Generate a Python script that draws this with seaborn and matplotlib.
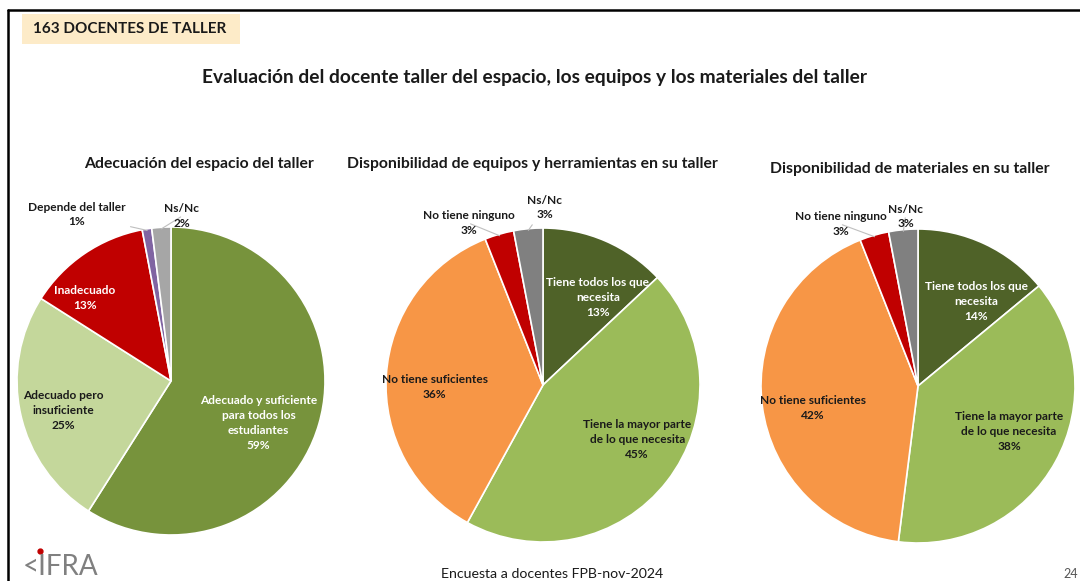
import numpy as np
import matplotlib
matplotlib.use("Agg")
import matplotlib.pyplot as plt
import seaborn as sns
from matplotlib.lines import Line2D
from matplotlib.patches import Rectangle

sns.set_theme(style="white")
plt.rcParams['font.family'] = ['Lato', 'DejaVu Sans']

# Datos
espacio_cat = ['Adecuado y suficiente\npara todos los\nestudiantes', 'Adecuado pero\ninsuficiente',
               'Inadecuado', 'Depende del taller', 'Ns/Nc']
espacio_pct = [59, 25, 13, 1, 2]

equipos_cat = ['Tiene todos los que\nnecesita', 'Tiene la mayor parte\nde lo que necesita',
               'No tiene suficientes', 'No tiene ninguno', 'Ns/Nc']
equipos_pct = [13, 45, 36, 3, 3]

materiales_cat = ['Tiene todos los que\nnecesita', 'Tiene la mayor parte\nde lo que necesita',
                  'No tiene suficientes', 'No tiene ninguno', 'Ns/Nc']
materiales_pct = [14, 38, 42, 3, 3]

titulos = ['Adecuación del espacio del taller',
           'Disponibilidad de equipos y herramientas en su taller',
           'Disponibilidad de materiales en su taller']

# Colores
col_espacio = ['#77933C', '#C4D79B', '#C00000', '#8064A2', '#A6A6A6']
col_equipos = ['#4F6228', '#9BBB59', '#F79646', '#C00000', '#808080']

# Posición de etiquetas (en unidades del radio) y color de texto
pos_espacio = [(0.57, -0.27), (-0.70, -0.19), (-0.56, 0.54), (-0.61, 1.08), (0.07, 1.07)]
pos_equipos = [(0.35, 0.56), (0.60, -0.35), (-0.69, -0.01), (-0.47, 1.03), (0.01, 1.13)]
pos_materiales = [(0.37, 0.54), (0.58, -0.29), (-0.67, -0.14), (-0.49, 1.03), (-0.08, 1.08)]
txt_espacio = ['white', '#1a1a1a', 'white', '#1a1a1a', '#1a1a1a']
txt_equipos = ['white', '#1a1a1a', '#1a1a1a', '#1a1a1a', '#1a1a1a']

W, H = 1080, 581
fig = plt.figure(figsize=(W / 100, H / 100), dpi=100)
fig.patch.set_facecolor('white')


def pie_axes(cx, cy, r):
    ax = fig.add_axes([(cx - r) / W, (H - cy - r) / H, 2 * r / W, 2 * r / H])
    return ax


def dibujar(ax, cats, vals, cols, pos, tcols, titulo, tx, ty):
    wedges, _ = ax.pie(vals, colors=cols, startangle=90, counterclock=False, radius=1,
                       wedgeprops=dict(edgecolor='white', linewidth=1.2))
    ax.set_xlim(-1, 1)
    ax.set_ylim(-1, 1)
    ax.set_aspect('equal')
    ax.axis('off')
    for w, c, v, p, tc in zip(wedges, cats, vals, pos, tcols):
        label = f'{c}\n{v}%'
        if p[1] > 1.0:
            ang = np.deg2rad((w.theta1 + w.theta2) / 2)
            ax.annotate(label, xy=(np.cos(ang) * 0.99, np.sin(ang) * 0.99), xytext=p,
                        ha='center', va='center', fontsize=8.6, fontweight='bold', color=tc,
                        annotation_clip=False, linespacing=1.4,
                        arrowprops=dict(arrowstyle='-', color='#BFBFBF', lw=0.8,
                                        shrinkA=1, shrinkB=0))
        else:
            ax.text(p[0], p[1], label, ha='center', va='center', fontsize=8.6,
                    fontweight='bold', color=tc, linespacing=1.45)
    ax.text(tx, ty, titulo, ha='center', va='center', fontsize=11.3, fontweight='bold',
            color='#1a1a1a', transform=ax.transData, clip_on=False)


ax1 = pie_axes(171, 381, 154)
dibujar(ax1, espacio_cat, espacio_pct, col_espacio, pos_espacio, txt_espacio, titulos[0], 0.18, 1.41)
ax2 = pie_axes(543, 385, 157)
dibujar(ax2, equipos_cat, equipos_pct, col_equipos, pos_equipos, txt_equipos, titulos[1], -0.065, 1.41)
ax3 = pie_axes(918, 386, 157)
dibujar(ax3, materiales_cat, materiales_pct, col_equipos, pos_materiales, txt_equipos, titulos[2], -0.05, 1.38)

# Marco de la diapositiva
fig.add_artist(Line2D([8 / W, 8 / W], [0, 1 - 10 / H], transform=fig.transFigure, color='black', lw=1.8))
fig.add_artist(Line2D([8 / W, 1], [1 - 10 / H, 1 - 10 / H], transform=fig.transFigure, color='black', lw=1.8))

# Encabezado
fig.add_artist(Rectangle((22 / W, 1 - 44 / H), 218 / W, 30 / H, transform=fig.transFigure,
                         facecolor='#FDEBC8', edgecolor='none'))
fig.text(33 / W, 1 - 29 / H, '163 DOCENTES DE TALLER', ha='left', va='center', fontsize=11,
         fontweight='bold', color='#1a1a1a')
fig.text(534 / W, 1 - 78 / H, 'Evaluación del docente taller del espacio, los equipos y los materiales del taller',
         ha='center', va='center', fontsize=13.8, fontweight='bold', color='#1a1a1a')

# Pie de página
fig.text(552 / W, 1 - 574 / H, 'Encuesta a docentes FPB-nov-2024', ha='center', va='center',
         fontsize=10.2, color='#1a1a1a')
fig.text(1063 / W, 1 - 574 / H, '24', ha='left', va='center', fontsize=9, color='#555555')
fig.text(23 / W, 1 - 567 / H, '<IFRA', ha='left', va='center', fontsize=20, color='#808080')
fig.add_artist(Line2D([40 / W], [1 - 551 / H], marker='o', markersize=3.5, color='#C00000',
                      transform=fig.transFigure))

fig.savefig('out.png', dpi=100)
